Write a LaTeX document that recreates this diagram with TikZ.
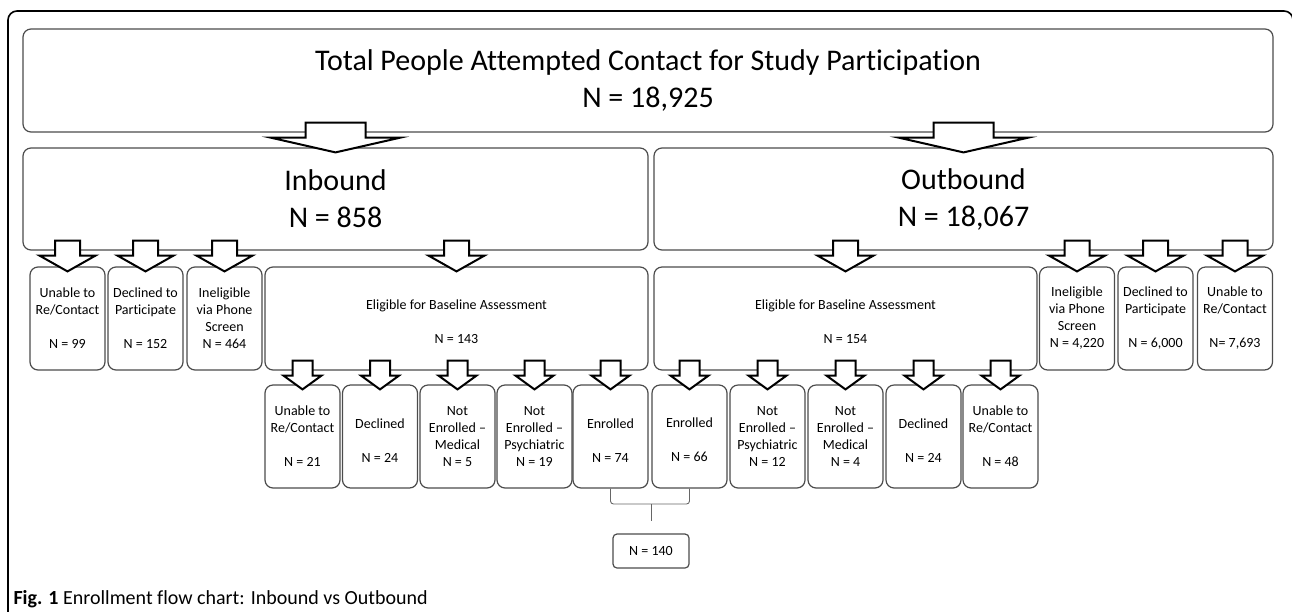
\documentclass[tikz,border=0pt]{standalone}
\usepackage{fontspec}
\setmainfont{Carlito}[Ligatures=NoCommon]
\usetikzlibrary{calc}

% block arrow from one box down into the next
\newcommand{\blockarr}[4]{%
  \draw[arr] let \p1=(#1.south), \p2=(#2.north) in
    (\x2-#3,\y1+10) -- (\x2+#3,\y1+10) -- (\x2+#3,\y1-5) -- (\x2+#4,\y1-5)
    -- (\x2,\y2-5) -- (\x2-#4,\y1-5) -- (\x2-#3,\y1-5) -- cycle;}

\begin{document}
\begin{tikzpicture}[x=1pt,y=-1pt,
    box/.style={draw=black!70,line width=1.2pt,rounded corners=8pt,minimum height=103pt,
      inner sep=0pt,align=center,font=\fontsize{14}{17}\selectfont},
    smallbox/.style={box,minimum width=75pt},
    bigbox/.style={box,minimum height=102pt,font=\fontsize{30}{37}\selectfont},
    arr/.style={draw=black,line width=2pt,fill=white,line join=miter}]
  \useasboundingbox (0,0) rectangle (1292,611);
  \draw[line width=1.6pt,rounded corners=9pt] (8,620) -- (8,11) -- (1293,11) -- (1293,40);

  \node[bigbox,minimum width=1250pt,minimum height=103pt] (total) at (648,80.5)
    {Total People Attempted Contact for Study Participation\\N = 18,925};
  \node[bigbox,minimum width=625pt] (inb) at (335.5,199) {Inbound\\N = 858};
  \node[bigbox,minimum width=619pt] (outb) at (963.5,199) {Outbound\\N = 18,067};

  % inbound / outbound outcomes
  \node[smallbox] (unI) at (67.5,318.5) {Unable to\\Re/Contact\\~\\N = 99};
  \node[smallbox] (decI) at (145.5,318.5) {Declined to\\Participate\\~\\N = 152};
  \node[smallbox] (ineI) at (224.5,318.5) {Ineligible\\via Phone\\Screen\\N = 464};
  \node[box,minimum width=383pt] (eliI) at (456.5,318.5) {~\\Eligible for Baseline Assessment\\~\\N = 143};
  \node[box,minimum width=383pt] (eliO) at (845.5,318.5) {~\\Eligible for Baseline Assessment\\~\\N = 154};
  \node[smallbox] (ineO) at (1077,318.5) {Ineligible\\via Phone\\Screen\\N = 4,220};
  \node[smallbox] (decO) at (1155.5,318.5) {Declined to\\Participate\\~\\N = 6,000};
  \node[smallbox] (unO) at (1235,318.5) {Unable to\\Re/Contact\\~\\N= 7,693};

  % baseline outcomes
  \node[smallbox] (unIb) at (302.5,436.5) {Unable to\\Re/Contact\\~\\N = 21};
  \node[smallbox] (decIb) at (380,436.5) {~\\Declined\\~\\N = 24};
  \node[smallbox] (medI) at (457.5,436.5) {Not\\Enrolled –\\Medical\\N = 5};
  \node[smallbox] (psyI) at (534.5,436.5) {Not\\Enrolled –\\Psychiatric\\N = 19};
  \node[smallbox] (enI) at (610.5,436.5) {~\\Enrolled\\~\\N = 74};
  \node[smallbox] (enO) at (689.5,436.5) {~\\Enrolled\\~\\N = 66};
  \node[smallbox] (psyO) at (767.5,436.5) {Not\\Enrolled –\\Psychiatric\\N = 12};
  \node[smallbox] (medO) at (845.5,436.5) {Not\\Enrolled –\\Medical\\N = 4};
  \node[smallbox] (decOb) at (923.5,436.5) {~\\Declined\\~\\N = 24};
  \node[smallbox] (unOb) at (1000.5,436.5) {Unable to\\Re/Contact\\~\\N = 48};

  \node[box,minimum width=76pt,minimum height=34pt,rounded corners=4pt] (enr) at (651,551) {N = 140};

  % arrows
  \blockarr{total}{inb}{30}{65}
  \blockarr{total}{outb}{30}{65}
  \foreach \c in {unI,decI,ineI,eliI} {\blockarr{inb}{\c}{12.5}{28}}
  \foreach \c in {eliO,ineO,decO,unO} {\blockarr{outb}{\c}{12.5}{28}}
  \foreach \c in {unIb,decIb,medI,psyI,enI} {\blockarr{eliI}{\c}{10}{19}}
  \foreach \c in {enO,psyO,medO,decOb,unOb} {\blockarr{eliO}{\c}{10}{19}}

  % brace to the total enrolled
  \coordinate (brk) at (651,504);
  \coordinate (stem) at (651,521);
  \draw[black!60,line width=0.9pt,rounded corners=3pt] (enI.south) |- (brk) -| (enO.south);
  \draw[black!60,line width=0.9pt] (brk) -- (stem);

  \node[anchor=base west,font=\fontsize{20}{24}\selectfont] (cap) at (10,604)
    {\textbf{Fig. 1} Enrollment flow chart: Inbound vs Outbound};
\end{tikzpicture}
\end{document}
